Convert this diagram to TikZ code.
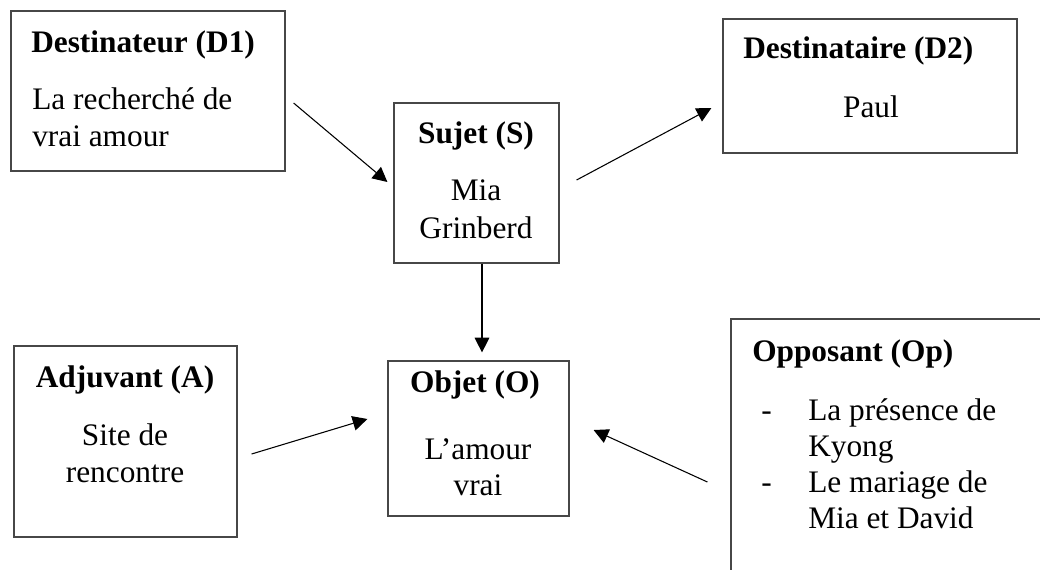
\documentclass[tikz,border=0pt]{standalone}
\usepackage{fontspec}
\setmainfont{Liberation Serif}
\usetikzlibrary{arrows.meta,calc,fit}
\begin{document}
\begin{tikzpicture}[x=0.75pt,y=-0.75pt,
  box/.style={draw=black!72, line width=0.9pt, rectangle, inner sep=0pt},
  txt/.style={inner sep=0pt, font=\fontsize{23.5}{27}\selectfont},
  ttl/.style={inner sep=0pt, font=\fontsize{23.5}{27}\selectfont\bfseries},
  arr/.style={line width=0.8pt, -{Triangle[length=11pt,width=11pt]}}]
\useasboundingbox (0,0) rectangle (1040,569);
\clip (0,0) rectangle (1040,569);
\fill[white] (0,0) rectangle (1040,569);
% boxes
\node[box, fit={(11,11) (285,171)}] (d1) {};
\node[box, fit={(394,103) (559,263)}] (s) {};
\node[box, fit={(723,19) (1017,153)}] (d2) {};
\node[box, fit={(14,346) (237,537)}] (a) {};
\node[box, fit={(388,361) (569,516)}] (o) {};
\node[box, fit={(731,319) (1050,580)}] (op) {};
% texts D1
\node[ttl, anchor=base west] (d1t) at (31,52) {Destinateur (D1)};
\node[txt, anchor=base west] (d1a) at (32,109) {La recherché de};
\node[txt, anchor=base west] (d1b) at (32,146) {vrai amour};
% Sujet
\node[ttl, anchor=base] (st) at (476,143) {Sujet (S)};
\node[txt, anchor=base] (sa) at (476,200) {Mia};
\node[txt, anchor=base] (sb) at (476,238) {Grinberd};
% D2
\node[ttl, anchor=base west] (d2t) at (743,58) {Destinataire (D2)};
\node[txt, anchor=base] (d2a) at (871,117) {Paul};
% Adjuvant
\node[ttl, anchor=base] (at) at (125,387) {Adjuvant (A)};
\node[txt, anchor=base] (aa) at (125,445) {Site de};
\node[txt, anchor=base] (ab) at (125,482) {rencontre};
% Objet
\node[ttl, anchor=base] (ot) at (475,392) {Objet (O)};
\node[txt, anchor=base] (oa) at (478,459) {L’amour};
\node[txt, anchor=base] (ob) at (478,495) {vrai};
% Opposant
\node[ttl, anchor=base west] (opt) at (752,361) {Opposant (Op)};
\node[txt, anchor=base west] (opd1) at (761,420) {-};
\node[txt, anchor=base west] (opa) at (808,420) {La présence de};
\node[txt, anchor=base west] (opb) at (808,456) {Kyong};
\node[txt, anchor=base west] (opd2) at (761,492) {-};
\node[txt, anchor=base west] (opc) at (808,492) {Le mariage de};
\node[txt, anchor=base west] (ope) at (808,528) {Mia et David};
% arrows
\draw[arr] ($(d1.east)+(8,12)$) -- ($(s.west)+(-6,-1)$);
\draw[arr] ($(s.east)+(17,-3)$) -- ($(d2.west)+(-11,22)$);
\draw[arr] ($(s.south)+(5.5,0)$) -- ($(o.north)+(3.5,-8)$);
\draw[arr] ($(a.east)+(14,12.5)$) -- ($(o.west)+(-20,-19.5)$);
\draw[arr] ($(op.west)+(-23,32.5)$) -- ($(o.east)+(24,-8.5)$);
\end{tikzpicture}
\end{document}
